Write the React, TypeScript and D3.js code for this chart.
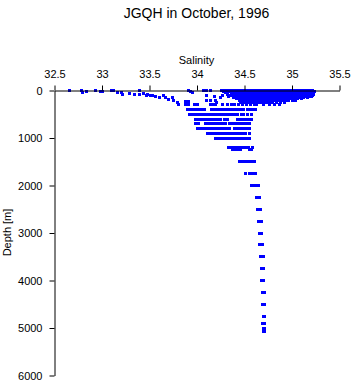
import { useEffect, useRef } from "react";
import * as d3 from "d3";

// salinity ticks along the top, depth ticks down the left
const salinityTicks = [32.5, 33, 33.5, 34, 34.5, 35, 35.5];
const depthTicks = [0, 1000, 2000, 3000, 4000, 5000, 6000];

// upper layer: one list of salinities per sampled depth
const upperDepths = [0, 20, 50, 75, 100, 125, 150, 175, 200, 250, 300];
const upperSalinity = [
  [34.07, 34.10, 34.14, 34.26, 34.29, 34.32, 34.35, 34.38, 34.41, 34.44, 34.47, 34.50, 34.53, 34.56, 34.59, 34.62, 34.65, 34.68, 34.71, 34.74, 34.77, 34.80, 34.83, 34.86, 34.89, 34.92, 34.95, 34.98, 35.01, 35.04, 35.07, 35.10, 35.13, 35.16, 35.19, 35.22],
  [33.93, 34.28, 34.31, 34.34, 34.37, 34.40, 34.43, 34.46, 34.49, 34.52, 34.55, 34.58, 34.61, 34.64, 34.67, 34.70, 34.73, 34.76, 34.79, 34.82, 34.85, 34.88, 34.91, 34.94, 34.97, 35.00, 35.03, 35.06, 35.09, 35.12, 35.15, 35.18, 35.21, 35.24],
  [33.95, 34.30, 34.36, 34.42, 34.45, 34.48, 34.51, 34.54, 34.57, 34.60, 34.63, 34.66, 34.69, 34.72, 34.75, 34.78, 34.81, 34.84, 34.87, 34.90, 34.93, 34.96, 34.99, 35.02, 35.05, 35.08, 35.11, 35.14, 35.17, 35.20],
  [34.32, 34.38, 34.44, 34.47, 34.50, 34.53, 34.56, 34.59, 34.62, 34.65, 34.68, 34.71, 34.74, 34.77, 34.80, 34.83, 34.86, 34.89, 34.92, 34.95, 34.98, 35.01, 35.04, 35.07, 35.10, 35.13, 35.16, 35.19, 35.23],
  [34.10, 34.27, 34.35, 34.41, 34.46, 34.49, 34.52, 34.55, 34.58, 34.61, 34.64, 34.67, 34.70, 34.73, 34.76, 34.79, 34.82, 34.85, 34.88, 34.91, 34.94, 34.97, 35.00, 35.03, 35.06, 35.09, 35.12, 35.15, 35.18, 35.22],
  [34.18, 34.33, 34.40, 34.45, 34.48, 34.51, 34.54, 34.57, 34.60, 34.63, 34.66, 34.69, 34.72, 34.75, 34.78, 34.81, 34.84, 34.87, 34.90, 34.93, 34.96, 34.99, 35.02, 35.05, 35.08, 35.11, 35.14, 35.17, 35.20],
  [34.25, 34.38, 34.44, 34.47, 34.50, 34.53, 34.56, 34.59, 34.62, 34.65, 34.68, 34.71, 34.74, 34.77, 34.80, 34.83, 34.86, 34.89, 34.92, 34.95, 34.98, 35.01, 35.04, 35.08, 35.12, 35.16],
  [34.42, 34.46, 34.50, 34.54, 34.58, 34.62, 34.66, 34.70, 34.74, 34.78, 34.82, 34.86, 34.90, 34.94, 34.98, 35.02, 35.06, 35.10],
  [34.10, 34.14, 34.19, 34.45, 34.48, 34.51, 34.54, 34.57, 34.60, 34.63, 34.66, 34.69, 34.72, 34.75, 34.78, 34.81, 34.84, 34.87, 34.90, 34.93, 34.96, 35.00, 35.04],
  [34.21, 34.46, 34.49, 34.52, 34.55, 34.58, 34.61, 34.64, 34.67, 34.70, 34.73, 34.76, 34.80, 34.84, 34.88, 34.92],
  [33.88, 33.91, 33.97, 34.01, 34.14, 34.17, 34.19, 34.27, 34.32, 34.36, 34.40, 34.44, 34.48, 34.52, 34.56, 34.60, 34.63, 34.70, 34.76, 34.82, 34.87],
];

// fresher stray samples near the surface
const strayDepth = [8, 5, 50, 15, 0, 15, 15, 10, 0, 50, 40, 75, 65, 80, 75, 10, 60, 110, 90, 100, 115, 130, 150, 115, 150, 185, 150, 220, 250, 290, 230, 240, 5, 40];
const straySalinity = [32.66, 32.78, 32.80, 32.84, 32.93, 32.98, 33.01, 33.10, 33.12, 33.16, 33.20, 33.22, 33.29, 33.34, 33.39, 33.40, 33.44, 33.47, 33.48, 33.51, 33.53, 33.56, 33.61, 33.65, 33.67, 33.70, 33.74, 33.75, 33.79, 33.81, 33.88, 33.91, 33.91, 33.95];

// deeper levels
const deepDepths = [400, 500, 600, 700, 800, 900, 1000, 1200, 1250, 1500, 1750, 2000, 2250, 2500, 2750, 3000, 3250, 3500, 3750, 4000, 4250, 4500, 4750, 4900, 5000, 5080];
const deepSalinity = [
  [33.90, 33.93, 33.96, 33.99, 34.02, 34.05, 34.08, 34.15, 34.18, 34.21, 34.24, 34.27, 34.29, 34.31, 34.34, 34.37, 34.40, 34.43, 34.46, 34.49, 34.53, 34.56, 34.59, 34.62],
  [33.92, 33.95, 33.98, 34.01, 34.04, 34.07, 34.10, 34.13, 34.16, 34.19, 34.22, 34.25, 34.28, 34.31, 34.34, 34.37, 34.40, 34.43, 34.47, 34.49, 34.53, 34.57],
  [33.98, 34.01, 34.04, 34.07, 34.10, 34.13, 34.16, 34.19, 34.22, 34.25, 34.29, 34.32, 34.43, 34.46, 34.49, 34.52, 34.55, 34.57],
  [33.98, 34.02, 34.09, 34.12, 34.15, 34.18, 34.21, 34.24, 34.27, 34.30, 34.34, 34.37, 34.40, 34.43, 34.46, 34.49, 34.52, 34.55],
  [34.01, 34.04, 34.07, 34.10, 34.13, 34.16, 34.19, 34.22, 34.25, 34.28, 34.31, 34.34, 34.40, 34.43, 34.46, 34.49, 34.52, 34.55],
  [34.11, 34.14, 34.17, 34.20, 34.23, 34.26, 34.29, 34.32, 34.35, 34.38, 34.42, 34.45, 34.48, 34.51, 34.55],
  [34.19, 34.22, 34.25, 34.28, 34.31, 34.34, 34.37, 34.40, 34.43, 34.46, 34.49, 34.52, 34.55],
  [34.33, 34.36, 34.39, 34.42, 34.45, 34.48, 34.51, 34.54, 34.58],
  [34.37, 34.40, 34.43, 34.46, 34.55, 34.57],
  [34.45, 34.48, 34.51, 34.54, 34.57, 34.60],
  [34.51, 34.55, 34.58, 34.62],
  [34.57, 34.60, 34.63, 34.65],
  [34.63, 34.66],
  [34.64, 34.67],
  [34.65, 34.68],
  [34.66, 34.68],
  [34.66, 34.69],
  [34.67, 34.70],
  [34.68, 34.70],
  [34.68, 34.70],
  [34.69, 34.71],
  [34.69, 34.71],
  [34.70, 34.71],
  [34.69, 34.71],
  [34.70, 34.71],
  [34.70, 34.71],
];

const font = "'Liberation Sans', Arial, Helvetica, sans-serif";

const App = () => {
  const svgRef = useRef<SVGSVGElement>(null);

  useEffect(() => {
    const svg = d3.select(svgRef.current);
    svg.selectAll("*").remove();

    const x = d3.scaleLinear().domain([32.5, 35.5]).range([54.5, 339.5]);
    const y = d3.scaleLinear().domain([0, 6000]).range([90.5, 375.5]);

    // flatten the arrays into points
    const points: Array<{ s: number; d: number }> = [];
    upperDepths.forEach((d, i) => upperSalinity[i].forEach((s) => points.push({ s, d })));
    strayDepth.forEach((d, i) => points.push({ s: straySalinity[i], d }));
    deepDepths.forEach((d, i) => deepSalinity[i].forEach((s) => points.push({ s, d })));

    svg.append("g")
      .selectAll("rect")
      .data(points)
      .enter()
      .append("rect")
      .attr("x", (p) => Math.round(x(p.s) - 1.5))
      .attr("y", (p) => Math.round(y(p.d) - 1.5))
      .attr("width", 3)
      .attr("height", 3)
      .attr("fill", "#0000ff");

    // salinity axis on top
    const xAxis = svg.append("g")
      .attr("transform", `translate(0,${y(0)})`)
      .call(d3.axisTop(x).tickValues(salinityTicks).tickSize(5).tickSizeOuter(0).tickPadding(8).tickFormat((d: any) => `${d}`));
    xAxis.selectAll("text").style("font-size", "11px").style("font-family", font).attr("fill", "#000");

    // depth axis on the left
    const yAxis = svg.append("g")
      .attr("transform", `translate(${x(32.5)},0)`)
      .call(d3.axisLeft(y).tickValues(depthTicks).tickSize(5).tickSizeOuter(0).tickPadding(7).tickFormat((d: any) => `${d}`));
    yAxis.selectAll("text").style("font-size", "11px").style("font-family", font).attr("fill", "#000");

    // labels
    svg.append("text")
      .attr("x", 196.5)
      .attr("y", 64)
      .attr("text-anchor", "middle")
      .style("font-size", "11px")
      .style("font-family", font)
      .text("Salinity");

    svg.append("text")
      .attr("transform", `translate(11,232.5) rotate(-90)`)
      .attr("text-anchor", "middle")
      .style("font-size", "11px")
      .style("font-family", font)
      .text("Depth [m]");

    svg.append("text")
      .attr("x", 196.5)
      .attr("y", 18)
      .attr("text-anchor", "middle")
      .style("font-size", "14px")
      .style("font-family", font)
      .text("JGQH in October, 1996");
  }, []);

  return (
    <svg
      ref={svgRef}
      width={353}
      height={384}
      style={{ position: "absolute", left: 0, top: 0, background: "#fff" }}
    ></svg>
  );
};

export default App;
